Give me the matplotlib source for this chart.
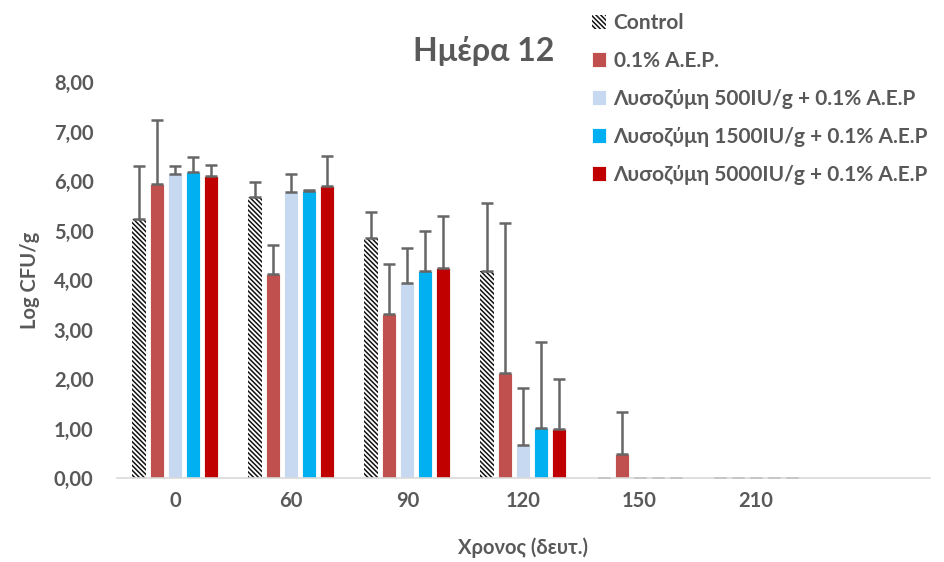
import matplotlib.pyplot as plt
import numpy as np

plt.rcParams["font.family"] = ["Lato", "DejaVu Sans"]
plt.rcParams["font.weight"] = "bold"
plt.rcParams["axes.labelweight"] = "bold"
plt.rcParams["hatch.linewidth"] = 1.1

TEXT = "#595959"

times = ["0", "60", "90", "120", "150", "210", ""]
series = [
    "Control",
    "0.1% A.E.P.",
    "Λυσοζύμη 500IU/g + 0.1% A.E.P",
    "Λυσοζύμη 1500IU/g + 0.1% A.E.P",
    "Λυσοζύμη 5000IU/g + 0.1% A.E.P",
]
control = [5.24, 5.67, 4.86, 4.19, 0.0, 0.0]
aep = [5.95, 4.13, 3.32, 2.13, 0.49, 0.0]
lys500 = [6.15, 5.77, 3.95, 0.67, 0.0, 0.0]
lys1500 = [6.19, 5.81, 4.19, 1.01, 0.0, 0.0]
lys5000 = [6.11, 5.91, 4.25, 1.00, 0.0, 0.0]

control_err = [1.06, 0.32, 0.52, 1.37, 0.0, 0.0]
aep_err = [1.28, 0.57, 1.01, 3.03, 0.85, 0.0]
lys500_err = [0.15, 0.38, 0.69, 1.15, 0.0, 0.0]
lys1500_err = [0.29, 0.01, 0.81, 1.74, 0.0, 0.0]
lys5000_err = [0.21, 0.59, 1.05, 1.00, 0.0, 0.0]

values = [control, aep, lys500, lys1500, lys5000]
errors = [control_err, aep_err, lys500_err, lys1500_err, lys5000_err]
colors = ["white", "#C0504D", "#C6D9F1", "#00B0F0", "#C00000"]

fig = plt.figure(figsize=(9.44, 5.62), dpi=100)
ax = fig.add_axes([0.124, 0.149, 0.861, 0.705])

x = np.arange(len(values[0]))
width = 0.12
pitch = 0.155
for i, (vals, errs, col, name) in enumerate(zip(values, errors, colors, series)):
    pos = x + (i - 2) * pitch
    if i == 0:
        ax.bar(pos, vals, width, color="white", edgecolor="#111111",
               hatch="\\\\\\\\\\\\\\", linewidth=0, label=name)
    else:
        ax.bar(pos, vals, width, color=col, edgecolor="white",
               linewidth=0.6, label=name)
    ax.errorbar(pos, vals, yerr=[np.zeros(len(errs)), errs], fmt="none",
                ecolor="#666666", elinewidth=1.8, capsize=4.5, capthick=1.8)

ax.set_xlim(-0.5, len(times) - 0.5)
ax.set_ylim(0, 8)
ax.set_xticks(np.arange(len(times)))
ax.set_xticklabels(times)
ax.set_yticks(np.arange(0, 9))
ax.set_yticklabels([f"{v:.2f}".replace(".", ",") for v in range(0, 9)])
ax.tick_params(length=0, labelsize=14.5, colors=TEXT)
ax.tick_params(axis="y", pad=17)
ax.tick_params(axis="x", pad=9)

for side in ["top", "right", "left"]:
    ax.spines[side].set_visible(False)
ax.spines["bottom"].set_color("#d9d9d9")
ax.spines["bottom"].set_linewidth(1.2)

ax.set_ylabel("Log CFU/g", fontsize=14.5, color=TEXT, labelpad=10)
ax.set_xlabel("Χρονος (δευτ.)", fontsize=14.5, color=TEXT, labelpad=19)
fig.text(0.512, 0.91, "Ημέρα 12", ha="center", va="center",
         fontsize=23, color=TEXT, fontweight="bold")

leg = fig.legend(loc="upper left", bbox_to_anchor=(0.607, 1.01), frameon=False,
                 fontsize=15, handlelength=0.7, handleheight=0.7,
                 handletextpad=0.35, labelspacing=0.86)
for t in leg.get_texts():
    t.set_color(TEXT)

fig.savefig("out.png", dpi=100)
